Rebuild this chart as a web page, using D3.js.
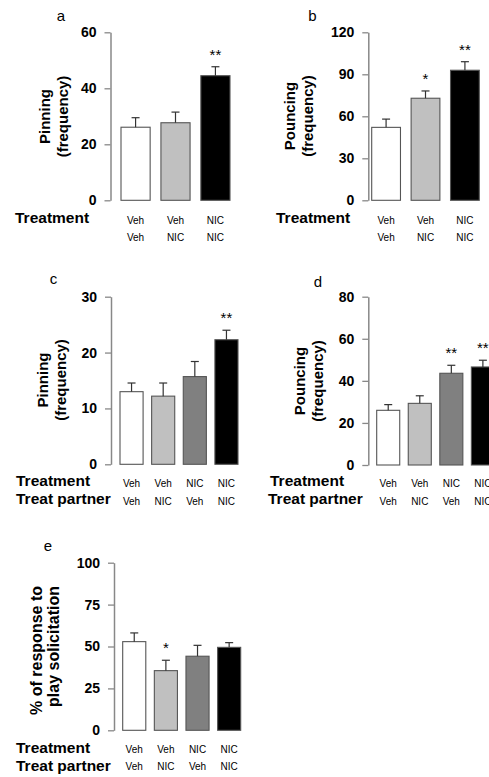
<!DOCTYPE html>
<html>
<head>
<meta charset="utf-8">
<script src="https://cdn.jsdelivr.net/npm/d3@7"></script>
<style>
  html, body { margin: 0; padding: 0; background: #fff; }
  svg { display: block; font-family: "Liberation Sans", Arial, Helvetica, sans-serif; }
</style>
</head>
<body>
<svg id="fig" width="489" height="777"></svg>
<script>
// ---- Data ----
const treatment3 = ["Veh", "Veh", "NIC"];
const partner3   = ["Veh", "NIC", "NIC"];
const treatment4 = ["Veh", "Veh", "NIC", "NIC"];
const partner4   = ["Veh", "NIC", "Veh", "NIC"];

const fills3 = ["#ffffff", "#c0c0c0", "#000000"];
const fills4 = ["#ffffff", "#c0c0c0", "#808080", "#000000"];

// a: pinning, 3 groups
const pinningA     = [26.1, 27.7, 44.5];
const pinningA_sem = [3.4, 3.8, 3.2];
const pinningA_sig = ["", "", "**"];
const ticksA       = [0, 20, 40, 60];

// b: pouncing, 3 groups
const pouncingB     = [52.1, 72.9, 92.9];
const pouncingB_sem = [5.9, 5.2, 6.1];
const pouncingB_sig = ["", "*", "**"];
const ticksB        = [0, 30, 60, 90, 120];

// c: pinning, 4 groups
const pinningC     = [13.0, 12.2, 15.7, 22.3];
const pinningC_sem = [1.55, 2.35, 2.7, 1.7];
const pinningC_sig = ["", "", "", "**"];
const ticksC       = [0, 10, 20, 30];

// d: pouncing, 4 groups
const pouncingD     = [26.0, 29.3, 43.6, 46.6];
const pouncingD_sem = [2.7, 3.6, 3.8, 3.2];
const pouncingD_sig = ["", "", "**", "**"];
const ticksD        = [0, 20, 40, 60, 80];

// e: % response to play solicitation, 4 groups
const responseE     = [52.9, 35.6, 44.2, 49.5];
const responseE_sem = [5.2, 6.2, 6.5, 2.8];
const responseE_sig = ["", "*", "", ""];
const ticksE        = [0, 25, 50, 75, 100];

// ---- Drawing ----
const svg = d3.select("#fig");

function drawPanel(p) {
  const g = svg.append("g");
  const y = d3.scaleLinear().domain([0, d3.max(p.ticks)]).range([p.y0, p.yTop]);
  const x = d3.scaleBand().domain(d3.range(p.values.length))
    .range([p.barLeft, p.barRight]).paddingInner(0.27).paddingOuter(0);

  // panel letter
  g.append("text").attr("x", p.letterX).attr("y", p.letterY)
    .attr("text-anchor", "middle").attr("font-size", 15).text(p.letter);

  // y axis
  const ax = g.append("g").attr("transform", `translate(${p.axisX},0)`)
    .call(d3.axisLeft(y).tickValues(p.ticks).tickSize(6).tickSizeOuter(0).tickPadding(8));
  ax.select(".domain").attr("stroke", "#888").attr("stroke-width", 1.5);
  ax.selectAll(".tick line").attr("stroke", "#888").attr("stroke-width", 1.3);
  ax.selectAll(".tick text").attr("font-size", 14).attr("font-weight", "bold")
    .attr("fill", "#000").attr("font-family", "Liberation Sans, Arial, sans-serif");

  // y title (two lines, rotated)
  const t = g.append("text")
    .attr("transform", `translate(${p.titleX},${p.titleY}) rotate(-90)`)
    .attr("text-anchor", p.titleAnchor || "middle")
    .attr("font-size", p.titleSize || 15).attr("font-weight", "bold");
  p.title.forEach((line, i) => {
    t.append("tspan").attr("x", 0).attr("y", i * p.titleGap).text(line);
  });

  // bars
  g.selectAll("rect.bar").data(p.values).join("rect").attr("class", "bar")
    .attr("x", (d, i) => x(i)).attr("width", x.bandwidth())
    .attr("y", d => y(d)).attr("height", d => p.y0 - y(d))
    .attr("fill", (d, i) => p.fills[i])
    .attr("stroke", "#555").attr("stroke-width", 1.1);

  // error bars (upper only)
  const cap = 4;
  p.values.forEach((v, i) => {
    const cx = x(i) + x.bandwidth() / 2;
    const top = y(v + p.sem[i]);
    g.append("line").attr("x1", cx).attr("x2", cx).attr("y1", y(v)).attr("y2", top)
      .attr("stroke", "#333").attr("stroke-width", 1.2);
    g.append("line").attr("x1", cx - cap).attr("x2", cx + cap).attr("y1", top).attr("y2", top)
      .attr("stroke", "#333").attr("stroke-width", 1.2);
    if (p.sig[i]) {
      g.append("text").attr("x", cx).attr("y", top - 15 + 8)
        .attr("text-anchor", "middle").attr("font-size", 15).text(p.sig[i]);
    }
  });

  // group rows under the bars
  p.rows.forEach((row, r) => {
    if (row.label) {
      g.append("text").attr("x", row.labelX).attr("y", row.baseline)
        .attr("font-size", 15.5).attr("font-weight", "bold").text(row.label);
    }
    row.cats.forEach((c, i) => {
      g.append("text").attr("x", x(i) + x.bandwidth() / 2).attr("y", row.catBaseline)
        .attr("text-anchor", "middle").attr("font-size", 10).text(c);
    });
  });
}

drawPanel({
  letter: "a", letterX: 61, letterY: 21,
  values: pinningA, sem: pinningA_sem, sig: pinningA_sig, ticks: ticksA, fills: fills3,
  y0: 200.3, yTop: 32.3, axisX: 110.5, barLeft: 121, barRight: 230,
  title: ["Pinning", "(frequency)"], titleX: 50, titleY: 116.5, titleGap: 18,
  rows: [
    { label: "Treatment", labelX: 15, baseline: 223, cats: treatment3, catBaseline: 224 },
    { label: null, cats: partner3, catBaseline: 241 }
  ]
});

drawPanel({
  letter: "b", letterX: 312.5, letterY: 21,
  values: pouncingB, sem: pouncingB_sem, sig: pouncingB_sig, ticks: ticksB, fills: fills3,
  y0: 200.3, yTop: 32.3, axisX: 368.3, barLeft: 371.7, barRight: 479.3,
  title: ["Pouncing", "(frequency)"], titleX: 295, titleY: 116, titleGap: 18,
  rows: [
    { label: "Treatment", labelX: 276, baseline: 223, cats: treatment3, catBaseline: 224 },
    { label: null, cats: partner3, catBaseline: 241 }
  ]
});

drawPanel({
  letter: "c", letterX: 53.5, letterY: 284,
  values: pinningC, sem: pinningC_sem, sig: pinningC_sig, ticks: ticksC, fills: fills4,
  y0: 464.3, yTop: 296.7, axisX: 111, barLeft: 120, barRight: 238,
  title: ["Pinning", "(frequency)"], titleX: 47.5, titleY: 380, titleGap: 18.5,
  rows: [
    { label: "Treatment", labelX: 16, baseline: 486, cats: treatment4, catBaseline: 486.5 },
    { label: "Treat partner", labelX: 16, baseline: 504, cats: partner4, catBaseline: 505 }
  ]
});

drawPanel({
  letter: "d", letterX: 318, letterY: 286.7,
  values: pouncingD, sem: pouncingD_sem, sig: pouncingD_sig, ticks: ticksD, fills: fills4,
  y0: 465, yTop: 296.7, axisX: 368.3, barLeft: 376.7, barRight: 494.4,
  title: ["Pouncing", "(frequency)"], titleX: 305, titleY: 381, titleGap: 17.5,
  rows: [
    { label: "Treatment", labelX: 270, baseline: 486, cats: treatment4, catBaseline: 486.5 },
    { label: "Treat partner", labelX: 268, baseline: 504, cats: partner4, catBaseline: 505 }
  ]
});

drawPanel({
  letter: "e", letterX: 47.8, letterY: 551,
  values: responseE, sem: responseE_sem, sig: responseE_sig, ticks: ticksE, fills: fills4,
  y0: 730.3, yTop: 562.7, axisX: 114, barLeft: 122.7, barRight: 240.7,
  title: ["%  of response to", "play solicitation"], titleX: 42, titleY: 586,
  titleAnchor: "end", titleSize: 16, titleGap: 16.5,
  rows: [
    { label: "Treatment", labelX: 16, baseline: 753, cats: treatment4, catBaseline: 752.5 },
    { label: "Treat partner", labelX: 16, baseline: 770.5, cats: partner4, catBaseline: 770 }
  ]
});
</script>
</body>
</html>
